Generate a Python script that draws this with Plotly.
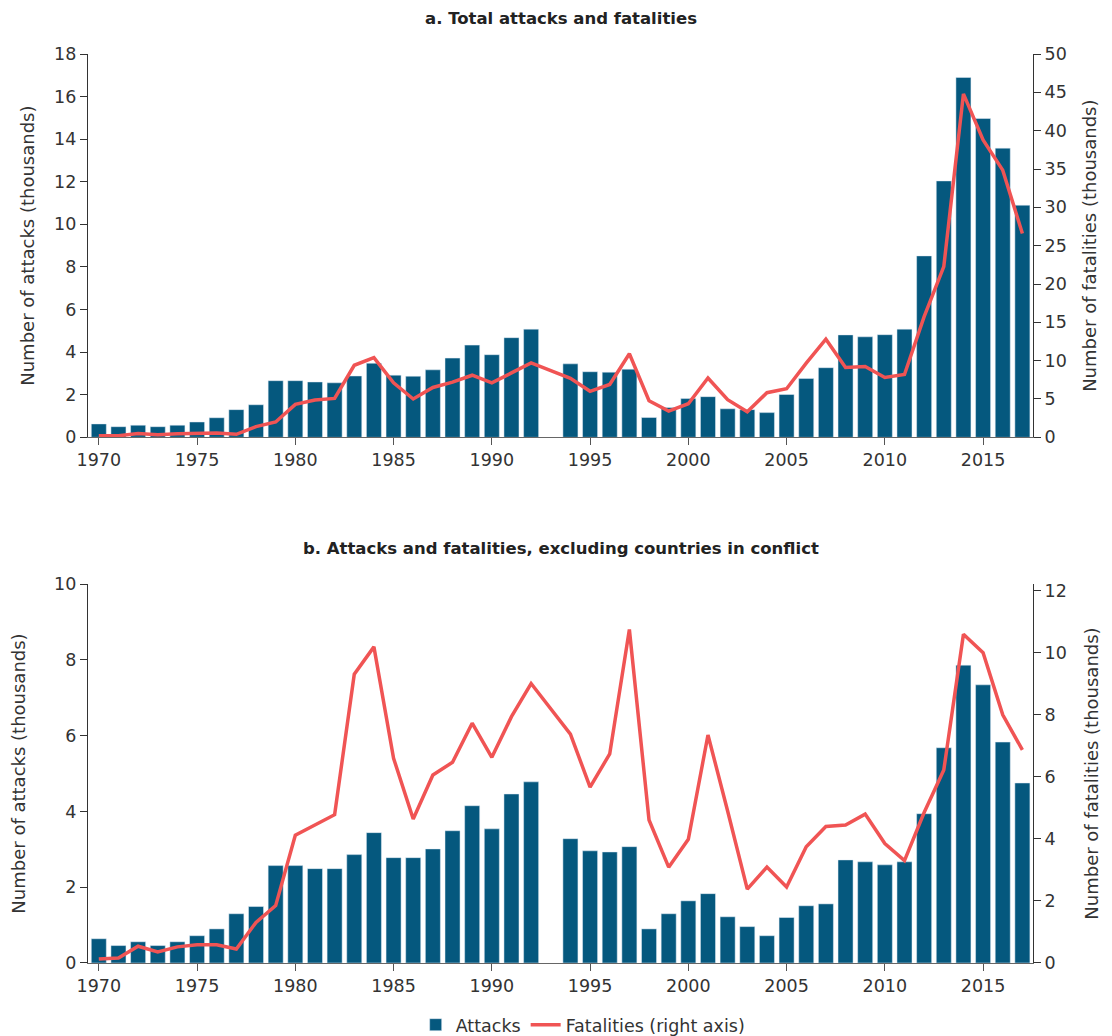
import plotly.graph_objects as go

years = list(range(1970, 2018))

# Panel a: total attacks (thousands) and fatalities (thousands)
attacks_total = [0.63, 0.50, 0.57, 0.50, 0.57, 0.72, 0.92, 1.30, 1.53, 2.66,
                 2.66, 2.60, 2.56, 2.88, 3.48, 2.92, 2.87, 3.17, 3.72, 4.33,
                 3.88, 4.68, 5.08, None, 3.45, 3.08, 3.06, 3.20, 0.93, 1.40,
                 1.82, 1.91, 1.34, 1.30, 1.16, 2.01, 2.76, 3.27, 4.81, 4.72,
                 4.82, 5.08, 8.52, 12.04, 16.90, 14.97, 13.58, 10.90]
fatal_total = [0.2, 0.2, 0.5, 0.35, 0.48, 0.56, 0.56, 0.4, 1.4, 2.0,
               4.3, 4.86, 5.08, 9.4, 10.4, 7.1, 5.0, 6.5, 7.2, 8.1,
               7.1, 8.4, 9.7, None, 7.7, 6.0, 6.9, 10.9, 4.77, 3.43,
               4.38, 7.73, 4.9, 3.34, 5.82, 6.34, 9.68, 12.8, 9.11, 9.24,
               7.81, 8.2, 15.75, 22.27, 44.8, 38.8, 34.85, 26.6]

# Panel b: excluding countries in conflict
attacks_excl = [0.64, 0.46, 0.56, 0.46, 0.56, 0.72, 0.90, 1.30, 1.49, 2.57,
                2.57, 2.49, 2.49, 2.86, 3.44, 2.78, 2.78, 3.01, 3.49, 4.15,
                3.54, 4.46, 4.78, None, 3.28, 2.96, 2.93, 3.07, 0.90, 1.30,
                1.64, 1.83, 1.22, 0.96, 0.72, 1.20, 1.51, 1.56, 2.72, 2.67,
                2.59, 2.67, 3.94, 5.68, 7.86, 7.34, 5.83, 4.75]
fatal_excl = [0.13, 0.16, 0.54, 0.36, 0.52, 0.59, 0.59, 0.45, 1.31, 1.85,
              4.12, 4.45, 4.78, 9.31, 10.19, 6.6, 4.64, 6.06, 6.47, 7.73,
              6.63, 7.94, 9.01, None, 7.38, 5.67, 6.74, 10.75, 4.61, 3.09,
              3.99, 7.35, 4.9, 2.38, 3.09, 2.45, 3.75, 4.4, 4.45, 4.8,
              3.85, 3.3, 4.85, 6.22, 10.6, 10.0, 8.0, 6.87]

title_a = "a. Total attacks and fatalities"
title_b = "b. Attacks and fatalities, excluding countries in conflict"
left_title = "Number of attacks (thousands)"
right_title = "Number of fatalities (thousands)"
x_ticks = [1970, 1975, 1980, 1985, 1990, 1995, 2000, 2005, 2010, 2015]

BAR = "#05587E"
LINE = "#F05454"
FONT = "DejaVu Sans"
TXT = "#333333"

fig = go.Figure()
fig.add_trace(go.Bar(x=years, y=attacks_total, marker_color=BAR, name="Attacks",
                     xaxis="x", yaxis="y", showlegend=False))
fig.add_trace(go.Scatter(x=years, y=fatal_total, mode="lines", connectgaps=True,
                         line=dict(color=LINE, width=3.5), name="Fatalities (right axis)",
                         xaxis="x", yaxis="y2", showlegend=False))
fig.add_trace(go.Bar(x=years, y=attacks_excl, marker_color=BAR, name="Attacks",
                     xaxis="x2", yaxis="y3"))
fig.add_trace(go.Scatter(x=years, y=fatal_excl, mode="lines", connectgaps=True,
                         line=dict(color=LINE, width=3.5), name="Fatalities (right axis)",
                         xaxis="x2", yaxis="y4"))

tickfont = dict(family=FONT, size=17.5, color=TXT)
titlefont = dict(family=FONT, size=18, color=TXT)
xr = [1969.45, 2017.54]

xcommon = dict(range=xr, tickvals=x_ticks, ticks="outside", ticklen=7, tickcolor="#555",
               showline=True, linecolor="#666", linewidth=1.2, showgrid=False,
               zeroline=False, tickfont=tickfont, fixedrange=True, automargin=False)
ycommon = dict(ticks="outside", ticklen=7, tickcolor="#333", showline=True,
               linecolor="#333", linewidth=1.2, showgrid=False, zeroline=False,
               tickfont=tickfont, fixedrange=True, automargin=False)

dom_a = [0.5783, 1.0]
dom_b = [0.0, 0.4169]

fig.update_layout(
    width=1104, height=1028,
    margin=dict(l=80, r=79, t=46, b=73, autoexpand=False),
    paper_bgcolor="white", plot_bgcolor="white",
    bargap=0.235,
    font=dict(family=FONT, color=TXT),
    xaxis=dict(domain=[0, 1], anchor="y", **xcommon),
    yaxis=dict(domain=dom_a, anchor="x", range=[0, 18], dtick=2,
               title=dict(text=left_title, font=titlefont, standoff=14), **ycommon),
    yaxis2=dict(overlaying="y", side="right", anchor="x", range=[0, 50], dtick=5,
                title=dict(text=right_title, font=titlefont, standoff=17), **ycommon),
    xaxis2=dict(domain=[0, 1], anchor="y3", **xcommon),
    yaxis3=dict(domain=dom_b, anchor="x2", range=[0, 10], dtick=2,
                title=dict(text=left_title, font=titlefont, standoff=23), **ycommon),
    yaxis4=dict(overlaying="y3", side="right", anchor="x2", range=[0, 12.216],
                tickvals=[0, 2, 4, 6, 8, 10, 12],
                title=dict(text=right_title, font=titlefont, standoff=19), **ycommon),
    legend=dict(orientation="h", x=0.524, xanchor="center", y=-0.068, yanchor="middle",
                font=dict(family=FONT, size=17.5, color=TXT), traceorder="normal"),
    annotations=[
        dict(text="<b>" + title_a + "</b>", x=0.5, y=1.0396, xref="paper", yref="paper",
             xanchor="center", yanchor="middle", showarrow=False,
             font=dict(family=FONT, size=16.5, color="#222")),
        dict(text="<b>" + title_b + "</b>", x=0.5, y=0.4565, xref="paper", yref="paper",
             xanchor="center", yanchor="middle", showarrow=False,
             font=dict(family=FONT, size=16.5, color="#222")),
    ],
)

fig.write_html("out.html")
